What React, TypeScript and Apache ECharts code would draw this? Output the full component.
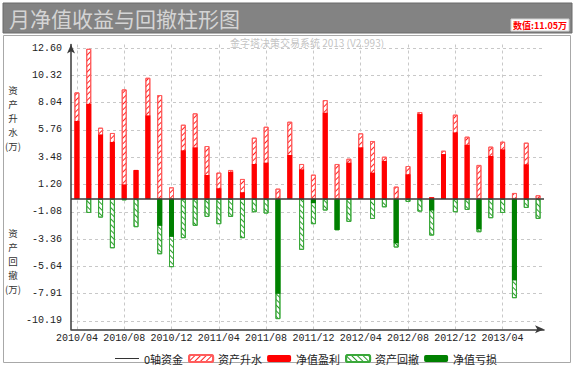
import React, { useEffect, useRef } from "react";
import * as echarts from "echarts";

const months = [
  "2010/04", "2010/05", "2010/06", "2010/07", "2010/08", "2010/09", "2010/10", "2010/11", "2010/12",
  "2011/01", "2011/02", "2011/03", "2011/04", "2011/05", "2011/06", "2011/07", "2011/08", "2011/09",
  "2011/10", "2011/11", "2011/12", "2012/01", "2012/02", "2012/03", "2012/04", "2012/05", "2012/06",
  "2012/07", "2012/08", "2012/09", "2012/10", "2012/11", "2012/12", "2013/01", "2013/02", "2013/03",
  "2013/04", "2013/05", "2013/06", "2013/07",
];

// 资产升水 (hatched red)
const assetRise = [
  8.9, 12.54, 5.95, 5.51, 9.15, 2.42, 10.12, 8.68, 0.97, 6.2, 7.15, 4.42, 2.2, 2.42, 1.67, 5.12, 6.03, 0.86,
  6.45, 2.92, 2.03, 8.26, 2.92, 3.36, 5.48, 4.84, 3.53, 1.03, 2.75, 7.26, 0.14, 4.03, 7.04, 5.2, 2.84, 4.37,
  4.78, 0.5, 4.7, 0.31,
];
// 净值盈利 (solid red)
const netProfit = [
  6.51, 7.93, 5.39, 4.76, 1.22, 2.42, 6.98, 0, 0, 4.06, 4.31, 2.0, 0.89, 2.25, 0.56, 2.92, 3.03, 0,
  3.67, 2.47, 0, 7.2, 0, 3.03, 4.31, 2.2, 3.17, 0, 2.06, 7.09, 0.14, 3.75, 5.56, 4.51, 0, 3.59,
  4.14, 0, 2.89, 0,
];
// 资产回撤 (hatched green)
const assetDrawdown = [
  0, -1.17, -1.56, -4.12, -0.12, -2.36, 0, -4.62, -5.7, -3.28, -2.25, -1.5, -2.11, -1.5, -3.28, -1.11, -1.22, -10.04,
  0, -4.25, -2.11, -0.97, -2.62, -1.92, 0, -1.67, -0.7, -4.06, -0.25, -1.06, -3.06, 0, -1.11, -0.92, -2.78, -1.61,
  -1.17, -8.29, -0.75, -1.67,
];
// 净值亏损 (solid green)
const netLoss = [
  0, 0, 0, 0, 0, 0, 0, -2.25, -3.17, 0, 0, 0, 0, 0, 0, 0, 0, -7.93,
  0, 0, -0.36, 0, -2.59, 0, 0, 0, 0, -3.7, 0, 0, -0.97, 0, 0, 0, -2.53, 0,
  0, -6.81, 0, 0,
];

const yTickLabels = ["12.60", "10.32", "8.04", "5.76", "3.48", "1.20", "-1.08", "-3.36", "-5.64", "-7.91", "-10.19"];
const yTicks = yTickLabels.map(Number);
const zeroLevel = 0;

const riseNameChars = ["资", "产", "升", "水", "(万)"];
const drawNameChars = ["资", "产", "回", "撤", "(万)"];

const Y_MIN = -10.89;
const Y_MAX = 12.9;

const toBar = (arr: number[]) => arr.map((v) => (v === 0 ? "-" : v));

export default function App() {
  const ref = useRef<HTMLDivElement>(null);
  useEffect(() => {
    document.body.style.margin = "0";
    const chart = echarts.init(ref.current!, null, { renderer: "svg" });
    const gridLine = { color: "#c8c8c8", width: 1, type: [3, 3] as any };
    const axisFont = "Liberation Mono";
    const cjk = "Noto Sans CJK SC";
    const vText = (chars: string[], top: number) =>
      chars.map((c, i) => ({
        type: "text",
        x: 13,
        y: top + i * 14,
        style: { text: c, fill: "#333", font: `9.5px "${cjk}"`, align: "center", verticalAlign: "top" },
      }));
    chart.setOption({
      animation: false,
      backgroundColor: "#ffffff",
      grid: { left: 71, right: 31, top: 44.5, bottom: 37.7, containLabel: false },
      legend: {
        left: 110,
        top: 348,
        itemWidth: 24,
        itemHeight: 7,
        itemGap: 5,
        textStyle: { fontFamily: cjk, fontSize: 11, color: "#222" },
        data: [
          { name: "0轴资金", icon: "path://M0,0H24V1H0Z" },
          "资产升水",
          "净值盈利",
          "资产回撤",
          "净值亏损",
        ],
      },
      xAxis: {
        type: "category",
        data: months,
        boundaryGap: true,
        axisLine: {
          onZero: false,
          lineStyle: { color: "#3a3a3a", width: 1.5 },
          symbol: ["none", "arrow"],
          symbolSize: [6, 9],
        },
        axisTick: { show: false },
        axisLabel: { interval: 3, fontFamily: axisFont, fontSize: 10, color: "#222", margin: 4 },
        splitLine: { show: true, interval: 3, alignWithLabel: true, lineStyle: gridLine },
      },
      yAxis: {
        type: "value",
        min: Y_MIN,
        max: Y_MAX,
        axisLine: {
          show: true,
          lineStyle: { color: "#3a3a3a", width: 1.5 },
          symbol: ["none", "arrow"],
          symbolSize: [6, 9],
        },
        axisTick: { show: false, customValues: yTicks },
        axisLabel: {
          customValues: yTicks,
          fontFamily: axisFont,
          fontSize: 10,
          color: "#222",
          margin: 9,
          formatter: (v: number) => {
            const i = yTicks.indexOf(v);
            return i >= 0 ? yTickLabels[i] : v.toFixed(2);
          },
        },
        splitLine: { show: true, customValues: yTicks, lineStyle: gridLine },
      },
      graphic: [
        { type: "rect", shape: { x: 3, y: 3, width: 569, height: 30 }, style: { fill: "#838383", stroke: "#6a6a6a", lineWidth: 1 } },
        {
          type: "text", x: 9, y: 18,
          style: { text: "月净值收益与回撤柱形图", fill: "#d4d4d4", font: `21px "${cjk}"`, verticalAlign: "middle", align: "left" },
        },
        { type: "rect", shape: { x: 511, y: 19, width: 58, height: 12 }, style: { fill: "#ffffff", stroke: "#d0d0d0", lineWidth: 1 } },
        {
          type: "text", x: 540, y: 25.5,
          style: { text: "数值:11.05万", fill: "#ff0000", font: `bold 9px "${cjk}"`, verticalAlign: "middle", align: "center" },
        },
        { type: "rect", shape: { x: 3.5, y: 35.5, width: 567, height: 327 }, style: { fill: "none", stroke: "#a8a8a8", lineWidth: 1 } },
        {
          type: "text", x: 307, y: 42,
          style: { text: "金字塔决策交易系统 2013 (V2.993)", fill: "#c4c4c4", font: `10px "${cjk}"`, verticalAlign: "middle", align: "center" },
        },
        ...vText(riseNameChars, 85),
        ...vText(drawNameChars, 228),
      ],
      series: [
        {
          name: "0轴资金",
          type: "line",
          data: [],
          symbol: "none",
          lineStyle: { color: "#333", width: 1 },
          itemStyle: { color: "#333" },
          markLine: {
            silent: true,
            symbol: "none",
            label: { show: false },
            lineStyle: { color: "#3a3a3a", width: 1.5, type: "solid" },
            data: [{ yAxis: zeroLevel }],
          },
        },
        {
          name: "资产升水",
          type: "bar",
          data: toBar(assetRise),
          barWidth: 5,
          barGap: "-100%",
          itemStyle: {
            color: "#ffffff",
            borderColor: "#ff5c5c",
            borderWidth: 1,
            decal: {
              symbol: "rect",
              symbolSize: 1,
              dashArrayX: [1, 0],
              dashArrayY: [1, 3],
              rotation: -Math.PI / 4,
              color: "#ff2020",
              backgroundColor: "#ffffff",
            },
          },
        },
        {
          name: "净值盈利",
          type: "bar",
          data: toBar(netProfit),
          barWidth: 5,
          barGap: "-100%",
          itemStyle: { color: "#ff0000" },
        },
        {
          name: "资产回撤",
          type: "bar",
          data: toBar(assetDrawdown),
          barWidth: 5,
          barGap: "-100%",
          itemStyle: {
            color: "#ffffff",
            borderColor: "#3aa83a",
            borderWidth: 1,
            decal: {
              symbol: "rect",
              symbolSize: 1,
              dashArrayX: [1, 0],
              dashArrayY: [1, 3],
              rotation: Math.PI / 4,
              color: "#2a9a2a",
              backgroundColor: "#ffffff",
            },
          },
        },
        {
          name: "净值亏损",
          type: "bar",
          data: toBar(netLoss),
          barWidth: 5,
          barGap: "-100%",
          itemStyle: { color: "#008000" },
        },
      ],
    });
    return () => chart.dispose();
  }, []);
  return <div ref={ref} style={{ width: 575, height: 367 }} />;
}
